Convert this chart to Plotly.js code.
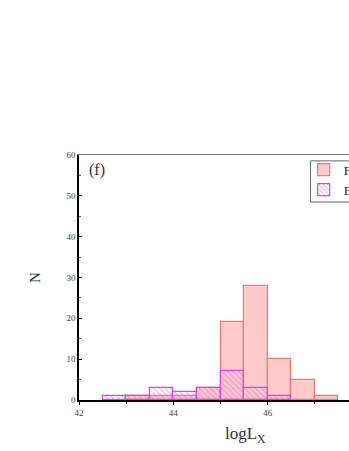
<!DOCTYPE html>
<html>
<head>
<meta charset="utf-8">
<script src="https://cdn.plot.ly/plotly-3.0.1.min.js"></script>
<style>
  html, body { margin: 0; padding: 0; overflow: hidden; background: #fff; }
  #chart { width: 440px; height: 451px; }
</style>
</head>
<body>
<div id="chart"></div>
<script>
// bin centres (bin width 0.5 in logLX)
const fsrqBins = [43.25, 43.75, 44.25, 44.75, 45.25, 45.75, 46.25, 46.75, 47.25];
const fsrqCounts = [1, 1, 1, 3, 19, 28, 10, 5, 1];

const bllacBins = [42.75, 43.25, 43.75, 44.25, 44.75, 45.25, 45.75, 46.25];
const bllacCounts = [1, 1, 3, 2, 3, 7, 3, 1];

const xTicks = [42, 44, 46];
const yTicks = [0, 10, 20, 30, 40, 50, 60];

const traces = [
    {
        type: "bar",
        name: "FSRQs",
        x: fsrqBins,
        y: fsrqCounts,
        width: 0.5,
        marker: {
            color: "#ffcaca",
            line: { color: "#f27878", width: 1.2 }
        }
    },
    {
        type: "bar",
        name: "BL Lacs",
        x: bllacBins,
        y: bllacCounts,
        width: 0.5,
        marker: {
            color: "rgba(0,0,0,0)",
            line: { color: "#e040f0", width: 1.2 },
            pattern: {
                shape: "\\",
                fgcolor: "#d860e0",
                bgcolor: "rgba(0,0,0,0)",
                size: 4,
                solidity: 0.3,
                fillmode: "overlay"
            }
        }
    },
    // invisible trace on the top axis so its border line is drawn
    {
        x: [42], y: [0], xaxis: "x2", mode: "markers",
        marker: { opacity: 0 }, showlegend: false, hoverinfo: "skip"
    }
];

const layout = {
    width: 440,
    height: 451,
    margin: { l: 79, r: 77.5, t: 155, b: 51 },
    paper_bgcolor: "#ffffff",
    plot_bgcolor: "#ffffff",
    barmode: "overlay",
    bargap: 0,
    font: { family: "Liberation Serif, serif", color: "#333" },
    showlegend: true,
    legend: {
        x: 0.794,
        y: 1.001,
        xanchor: "left",
        yanchor: "top",
        borderwidth: 0,
        bgcolor: "rgba(0,0,0,0)",
        font: { size: 13, color: "#222" },
        itemwidth: 30,
        tracegroupgap: 0
    },
    // legend frame
    shapes: [
        {
            type: "rect",
            xref: "paper",
            yref: "paper",
            x0: 0.818,
            x1: 1.2,
            y0: 0.808,
            y1: 0.976,
            line: { color: "#666", width: 1 }
        }
    ],
    xaxis: {
        range: [42, 48],
        tickvals: xTicks,
        ticks: "outside",
        ticklen: 3,
        tickcolor: "#000",
        tickfont: { size: 9, color: "#444" },
        showline: true,
        linecolor: "#000",
        linewidth: 1.5,
        showgrid: false,
        zeroline: false,
        minor: { dtick: 1, ticks: "outside", ticklen: 2, tickcolor: "#000" }
    },
    xaxis2: {
        overlaying: "x",
        range: [42, 48],
        side: "top",
        showline: true,
        linecolor: "#777",
        linewidth: 1,
        showticklabels: false,
        ticks: "",
        showgrid: false
    },
    yaxis: {
        range: [0, 60],
        tickvals: yTicks,
        ticks: "inside",
        ticklen: 3,
        tickcolor: "#000",
        tickfont: { size: 9, color: "#444" },
        showline: true,
        linecolor: "#000",
        linewidth: 1.5,
        showgrid: false,
        zeroline: false,
        title: {
            text: "N",
            font: { size: 15, color: "#333" },
            standoff: 22
        },
        minor: { dtick: 5, ticks: "inside", ticklen: 2, tickcolor: "#555" }
    },
    annotations: [
        {
            text: "(f)",
            xref: "paper",
            yref: "paper",
            x: 0.03,
            y: 0.985,
            xanchor: "left",
            yanchor: "top",
            showarrow: false,
            font: { size: 16, color: "#333" }
        },
        // x-axis title, centred on the visible part of the plot
        {
            text: "logL<sub>X</sub>",
            xref: "paper",
            yref: "paper",
            x: 0.588,
            y: -0.09,
            xanchor: "center",
            yanchor: "top",
            showarrow: false,
            font: { size: 17, color: "#333" }
        }
    ]
};

Plotly.newPlot("chart", traces, layout, { displayModeBar: false });
</script>
</body>
</html>
